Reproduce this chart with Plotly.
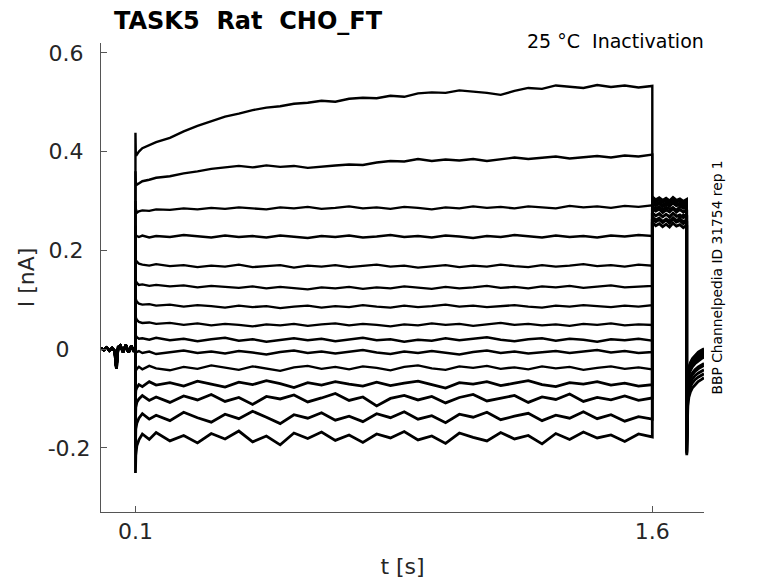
import plotly.graph_objects as go

FONT = "DejaVu Sans"
INK = "#262626"
AXIS = "#555555"

# sample times [s]
t_pre = [0.0, 0.008, 0.016, 0.024, 0.032, 0.040, 0.043, 0.045, 0.047, 0.050,
         0.056, 0.064, 0.072, 0.080, 0.088, 0.096, 0.100]
t_step = [0.100, 0.101, 0.104, 0.110, 0.120, 0.140, 0.16, 0.20, 0.24, 0.28,
          0.32, 0.36, 0.40, 0.44, 0.48, 0.52, 0.56, 0.60, 0.64, 0.68,
          0.72, 0.76, 0.80, 0.84, 0.88, 0.92, 0.96, 1.00, 1.04, 1.08,
          1.12, 1.16, 1.20, 1.24, 1.28, 1.32, 1.36, 1.40, 1.44, 1.48,
          1.52, 1.56, 1.60]
t_tail = [1.60, 1.61, 1.62, 1.63, 1.64, 1.65, 1.66, 1.67, 1.68, 1.69, 1.70]
t_rec = [1.700, 1.701, 1.703, 1.706, 1.710, 1.716, 1.724, 1.733, 1.742, 1.750]

# holding current before the step [nA], same for all sweeps
i_pre = [0.002, -0.002, 0.003, -0.003, 0.002, -0.004, -0.028, -0.040, -0.015, 0.004,
         0.007, -0.006, 0.008, -0.007, 0.006, -0.005, 0.001]

# current during the conditioning step [nA], one list per sweep
step_01 = [0.438, 0.396, 0.394, 0.400, 0.407, 0.413, 0.419, 0.428, 0.441, 0.452,
           0.462, 0.471, 0.477, 0.484, 0.489, 0.492, 0.497, 0.499, 0.503, 0.501,
           0.507, 0.509, 0.508, 0.513, 0.511, 0.518, 0.520, 0.519, 0.524, 0.522,
           0.519, 0.515, 0.523, 0.529, 0.527, 0.534, 0.531, 0.529, 0.535, 0.531,
           0.534, 0.530, 0.533]
step_02 = [0.360, 0.338, 0.333, 0.336, 0.340, 0.343, 0.347, 0.350, 0.356, 0.360,
           0.365, 0.368, 0.371, 0.368, 0.372, 0.369, 0.371, 0.367, 0.370, 0.372,
           0.374, 0.373, 0.378, 0.381, 0.380, 0.385, 0.381, 0.384, 0.382, 0.385,
           0.381, 0.384, 0.388, 0.385, 0.387, 0.390, 0.386, 0.389, 0.391, 0.388,
           0.392, 0.390, 0.394]
step_03 = [0.300, 0.284, 0.276, 0.279, 0.281, 0.280, 0.283, 0.282, 0.285, 0.283,
           0.286, 0.284, 0.287, 0.285, 0.283, 0.287, 0.285, 0.288, 0.284, 0.286,
           0.289, 0.285, 0.287, 0.284, 0.288, 0.286, 0.283, 0.287, 0.285, 0.289,
           0.286, 0.288, 0.285, 0.289, 0.287, 0.285, 0.290, 0.287, 0.289, 0.286,
           0.290, 0.288, 0.291]
step_04 = [0.250, 0.231, 0.229, 0.227, 0.230, 0.226, 0.229, 0.227, 0.231, 0.228,
           0.226, 0.230, 0.227, 0.229, 0.226, 0.230, 0.228, 0.225, 0.229, 0.227,
           0.230, 0.226, 0.228, 0.231, 0.227, 0.229, 0.226, 0.230, 0.228, 0.225,
           0.229, 0.227, 0.231, 0.228, 0.226, 0.230, 0.227, 0.229, 0.226, 0.230,
           0.228, 0.231, 0.229]
step_05 = [0.200, 0.180, 0.177, 0.173, 0.171, 0.169, 0.172, 0.168, 0.170, 0.166,
           0.169, 0.167, 0.171, 0.166, 0.168, 0.170, 0.165, 0.169, 0.167, 0.170,
           0.166, 0.168, 0.171, 0.167, 0.169, 0.165, 0.168, 0.170, 0.166, 0.169,
           0.167, 0.171, 0.168, 0.166, 0.170, 0.167, 0.169, 0.172, 0.168, 0.170,
           0.167, 0.171, 0.169]
step_06 = [0.160, 0.138, 0.134, 0.130, 0.131, 0.128, 0.130, 0.127, 0.129, 0.125,
           0.128, 0.126, 0.124, 0.127, 0.123, 0.126, 0.124, 0.121, 0.125, 0.123,
           0.126, 0.122, 0.125, 0.123, 0.127, 0.124, 0.122, 0.126, 0.123, 0.125,
           0.128, 0.124, 0.126, 0.123, 0.127, 0.125, 0.128, 0.124, 0.126, 0.129,
           0.125, 0.127, 0.128]
step_07 = [0.120, 0.101, 0.096, 0.092, 0.090, 0.091, 0.088, 0.090, 0.086, 0.089,
           0.087, 0.084, 0.088, 0.085, 0.087, 0.083, 0.086, 0.088, 0.084, 0.087,
           0.085, 0.089, 0.086, 0.084, 0.088, 0.085, 0.087, 0.090, 0.086, 0.088,
           0.085, 0.087, 0.089, 0.086, 0.084, 0.088, 0.086, 0.089, 0.087, 0.085,
           0.088, 0.086, 0.089]
step_08 = [0.080, 0.064, 0.059, 0.055, 0.053, 0.054, 0.051, 0.053, 0.049, 0.052,
           0.048, 0.051, 0.049, 0.046, 0.050, 0.048, 0.051, 0.047, 0.050, 0.052,
           0.048, 0.051, 0.049, 0.046, 0.050, 0.048, 0.052, 0.049, 0.051, 0.047,
           0.050, 0.053, 0.049, 0.051, 0.048, 0.050, 0.047, 0.051, 0.049, 0.052,
           0.048, 0.050, 0.049]
step_09 = [0.040, 0.027, 0.024, 0.021, 0.022, 0.019, 0.023, 0.018, 0.021, 0.016,
           0.020, 0.023, 0.017, 0.020, 0.015, 0.019, 0.022, 0.018, 0.021, 0.016,
           0.019, 0.023, 0.018, 0.020, 0.015, 0.019, 0.017, 0.022, 0.018, 0.021,
           0.024, 0.019, 0.016, 0.020, 0.022, 0.017, 0.021, 0.019, 0.015, 0.020,
           0.018, 0.021, 0.017]
step_10 = [0.000, -0.003, -0.006, -0.004, -0.008, -0.005, -0.010, -0.006, -0.003, -0.008,
           -0.005, -0.009, -0.004, -0.007, -0.011, -0.006, -0.003, -0.008, -0.005, -0.009,
           -0.006, -0.002, -0.007, -0.010, -0.005, -0.008, -0.004, -0.007, -0.011, -0.006,
           -0.003, -0.008, -0.005, -0.009, -0.006, -0.004, -0.008, -0.005, -0.002, -0.007,
           -0.004, -0.008, -0.006]
step_11 = [-0.060, -0.044, -0.040, -0.036, -0.041, -0.034, -0.039, -0.043, -0.036, -0.040,
           -0.033, -0.038, -0.042, -0.035, -0.039, -0.044, -0.037, -0.034, -0.040, -0.036,
           -0.041, -0.035, -0.038, -0.043, -0.036, -0.033, -0.039, -0.042, -0.035, -0.038,
           -0.034, -0.040, -0.037, -0.041, -0.035, -0.039, -0.036, -0.042, -0.038, -0.035,
           -0.040, -0.037, -0.041]
step_12 = [-0.100, -0.084, -0.078, -0.072, -0.076, -0.066, -0.073, -0.068, -0.075, -0.065,
           -0.071, -0.077, -0.067, -0.072, -0.064, -0.070, -0.078, -0.068, -0.073, -0.066,
           -0.071, -0.075, -0.067, -0.074, -0.069, -0.065, -0.072, -0.079, -0.068, -0.071,
           -0.066, -0.074, -0.069, -0.064, -0.072, -0.076, -0.068, -0.071, -0.066, -0.073,
           -0.069, -0.075, -0.072]
step_13 = [-0.150, -0.118, -0.108, -0.101, -0.094, -0.104, -0.097, -0.108, -0.095, -0.103,
           -0.092, -0.106, -0.098, -0.112, -0.096, -0.101, -0.093, -0.107, -0.099, -0.090,
           -0.104, -0.097, -0.115, -0.100, -0.094, -0.103, -0.096, -0.109, -0.098, -0.092,
           -0.105, -0.099, -0.094, -0.108, -0.097, -0.102, -0.091, -0.106, -0.098, -0.103,
           -0.095, -0.104, -0.099]
step_14 = [-0.200, -0.162, -0.150, -0.140, -0.131, -0.142, -0.134, -0.145, -0.128, -0.139,
           -0.148, -0.132, -0.141, -0.126, -0.138, -0.151, -0.133, -0.140, -0.129, -0.144,
           -0.136, -0.147, -0.131, -0.139, -0.127, -0.142, -0.135, -0.149, -0.132, -0.138,
           -0.128, -0.143, -0.136, -0.130, -0.145, -0.134, -0.140, -0.127, -0.141, -0.133,
           -0.146, -0.137, -0.142]
step_15 = [-0.251, -0.215, -0.196, -0.184, -0.172, -0.183, -0.169, -0.186, -0.175, -0.190,
           -0.171, -0.182, -0.166, -0.188, -0.176, -0.194, -0.170, -0.181, -0.168, -0.185,
           -0.174, -0.189, -0.172, -0.180, -0.167, -0.184, -0.176, -0.191, -0.170, -0.179,
           -0.186, -0.169, -0.182, -0.175, -0.192, -0.171, -0.183, -0.168, -0.180, -0.174,
           -0.187, -0.172, -0.178]

# current during the test pulse [nA]
tail_01 = [0.268, 0.262, 0.266, 0.259, 0.264, 0.260, 0.267, 0.261, 0.265, 0.258, 0.263]
tail_02 = [0.276, 0.270, 0.274, 0.268, 0.273, 0.269, 0.275, 0.270, 0.267, 0.272, 0.270]
tail_03 = [0.284, 0.279, 0.283, 0.276, 0.281, 0.278, 0.284, 0.277, 0.282, 0.279, 0.280]
tail_04 = [0.290, 0.285, 0.289, 0.283, 0.288, 0.284, 0.287, 0.282, 0.289, 0.285, 0.286]
tail_05 = [0.296, 0.290, 0.294, 0.288, 0.293, 0.289, 0.295, 0.290, 0.292, 0.287, 0.291]
tail_06 = [0.300, 0.294, 0.298, 0.292, 0.297, 0.293, 0.299, 0.294, 0.296, 0.291, 0.295]
tail_07 = [0.304, 0.298, 0.302, 0.297, 0.301, 0.296, 0.303, 0.297, 0.300, 0.295, 0.299]
tail_08 = [0.308, 0.301, 0.305, 0.300, 0.304, 0.299, 0.306, 0.300, 0.303, 0.298, 0.302]
tail_09 = [0.309, 0.303, 0.307, 0.302, 0.306, 0.301, 0.308, 0.302, 0.305, 0.300, 0.304]
tail_10 = [0.306, 0.300, 0.304, 0.298, 0.303, 0.297, 0.305, 0.299, 0.302, 0.296, 0.301]
tail_11 = [0.298, 0.292, 0.296, 0.290, 0.295, 0.289, 0.297, 0.291, 0.294, 0.288, 0.293]
tail_12 = [0.287, 0.281, 0.285, 0.279, 0.284, 0.278, 0.286, 0.280, 0.283, 0.277, 0.282]
tail_13 = [0.276, 0.270, 0.274, 0.268, 0.273, 0.267, 0.275, 0.269, 0.272, 0.266, 0.271]
tail_14 = [0.264, 0.258, 0.262, 0.256, 0.261, 0.255, 0.263, 0.257, 0.260, 0.254, 0.259]
tail_15 = [0.257, 0.250, 0.254, 0.248, 0.253, 0.247, 0.255, 0.249, 0.252, 0.246, 0.251]

# current after returning to holding potential [nA]
rec_01 = [-0.185, -0.085, -0.050, -0.036, -0.027, -0.019, -0.012, -0.006, -0.002, 0.001]
rec_02 = [-0.188, -0.088, -0.053, -0.038, -0.029, -0.021, -0.014, -0.008, -0.004, -0.001]
rec_03 = [-0.190, -0.090, -0.055, -0.040, -0.031, -0.023, -0.016, -0.010, -0.006, -0.003]
rec_04 = [-0.192, -0.092, -0.057, -0.042, -0.033, -0.025, -0.018, -0.012, -0.008, -0.005]
rec_05 = [-0.194, -0.094, -0.059, -0.044, -0.035, -0.027, -0.020, -0.014, -0.010, -0.007]
rec_06 = [-0.196, -0.096, -0.061, -0.046, -0.037, -0.029, -0.022, -0.016, -0.012, -0.009]
rec_07 = [-0.198, -0.098, -0.063, -0.048, -0.039, -0.031, -0.024, -0.018, -0.014, -0.011]
rec_08 = [-0.200, -0.100, -0.065, -0.050, -0.041, -0.033, -0.026, -0.020, -0.016, -0.013]
rec_09 = [-0.202, -0.102, -0.067, -0.052, -0.043, -0.035, -0.028, -0.022, -0.018, -0.015]
rec_10 = [-0.204, -0.104, -0.069, -0.054, -0.045, -0.037, -0.030, -0.024, -0.020, -0.017]
rec_11 = [-0.206, -0.118, -0.082, -0.066, -0.056, -0.048, -0.041, -0.036, -0.032, -0.029]
rec_12 = [-0.208, -0.122, -0.086, -0.070, -0.060, -0.052, -0.045, -0.040, -0.036, -0.033]
rec_13 = [-0.210, -0.130, -0.095, -0.079, -0.069, -0.061, -0.054, -0.049, -0.045, -0.042]
rec_14 = [-0.212, -0.138, -0.103, -0.087, -0.077, -0.069, -0.062, -0.057, -0.053, -0.050]
rec_15 = [-0.215, -0.150, -0.115, -0.098, -0.088, -0.079, -0.072, -0.066, -0.062, -0.058]

y_ticks = [-0.2, 0, 0.2, 0.4, 0.6]
y_ticktext = ["-0.2", "0\u00a0\u00a0\u00a0", "0.2\u00a0", "0.4\u00a0", "0.6\u00a0"]
x_ticks = [0.1, 1.6]
x_ticktext = ["0.1", "1.6"]

sweeps = [
    (step_01, tail_01, rec_01), (step_02, tail_02, rec_02), (step_03, tail_03, rec_03),
    (step_04, tail_04, rec_04), (step_05, tail_05, rec_05), (step_06, tail_06, rec_06),
    (step_07, tail_07, rec_07), (step_08, tail_08, rec_08), (step_09, tail_09, rec_09),
    (step_10, tail_10, rec_10), (step_11, tail_11, rec_11), (step_12, tail_12, rec_12),
    (step_13, tail_13, rec_13), (step_14, tail_14, rec_14), (step_15, tail_15, rec_15),
]

fig = go.Figure()
t_all = t_pre + t_step + t_tail + t_rec
for k, (step, tail, rec) in enumerate(sweeps):
    assert len(step) == len(t_step), (k, len(step))
    assert len(tail) == len(t_tail), (k, len(tail))
    assert len(rec) == len(t_rec), (k, len(rec))
    # noisier (lower) sweeps look thicker in the original
    width = 2.4 if k < 11 else 2.8
    fig.add_trace(go.Scatter(
        x=t_all, y=i_pre + step + tail + rec, mode="lines",
        line=dict(color="black", width=width), hoverinfo="skip", showlegend=False,
    ))

# the page body has an 8 px margin, so positions are given 8 px up/left
fig.update_layout(
    width=778, height=583,
    margin=dict(l=93, r=82, t=35, b=79),
    paper_bgcolor="white", plot_bgcolor="white",
    font=dict(family=FONT, color=INK, size=22),
    title=dict(
        text="<b>TASK5\u00a0\u00a0Rat\u00a0\u00a0CHO_FT</b>",
        x=106 / 778, xanchor="left", xref="container",
        y=1 - 13 / 583, yanchor="middle", yref="container",
        font=dict(family=FONT, size=24, color="black"),
    ),
    annotations=[
        dict(text="25 °C\u00a0\u00a0Inactivation", x=1.003, y=(512 - 41) / 469,
             xref="paper", yref="paper", xanchor="right", yanchor="middle",
             showarrow=False, font=dict(family=FONT, size=19, color="black")),
        dict(text="BBP Channelpedia ID 31754 rep 1", x=(716 - 101) / 603, y=0.5,
             xref="paper", yref="paper", xanchor="center", yanchor="middle",
             textangle=-90, showarrow=False,
             font=dict(family=FONT, size=13.8, color="black")),
    ],
)
fig.update_xaxes(
    range=[0, 1.75], tickvals=x_ticks, ticktext=x_ticktext,
    ticks="inside", ticklen=6, tickcolor=AXIS, tickwidth=1,
    showline=True, linecolor=AXIS, linewidth=1,
    showgrid=False, zeroline=False,
    tickfont=dict(size=22, color=INK),
    title=dict(text="t [s]", font=dict(size=22, color=INK), standoff=15),
)
fig.update_yaxes(
    range=[-0.33, 0.62], tickvals=y_ticks, ticktext=y_ticktext,
    ticks="inside", ticklen=6, tickcolor=AXIS, tickwidth=1,
    showline=True, linecolor=AXIS, linewidth=1,
    showgrid=False, zeroline=False, ticklabelstandoff=5,
    tickfont=dict(size=22, color=INK),
    title=dict(text="I [nA]", font=dict(size=22, color=INK), standoff=6),
)

fig.write_html("out.html")
